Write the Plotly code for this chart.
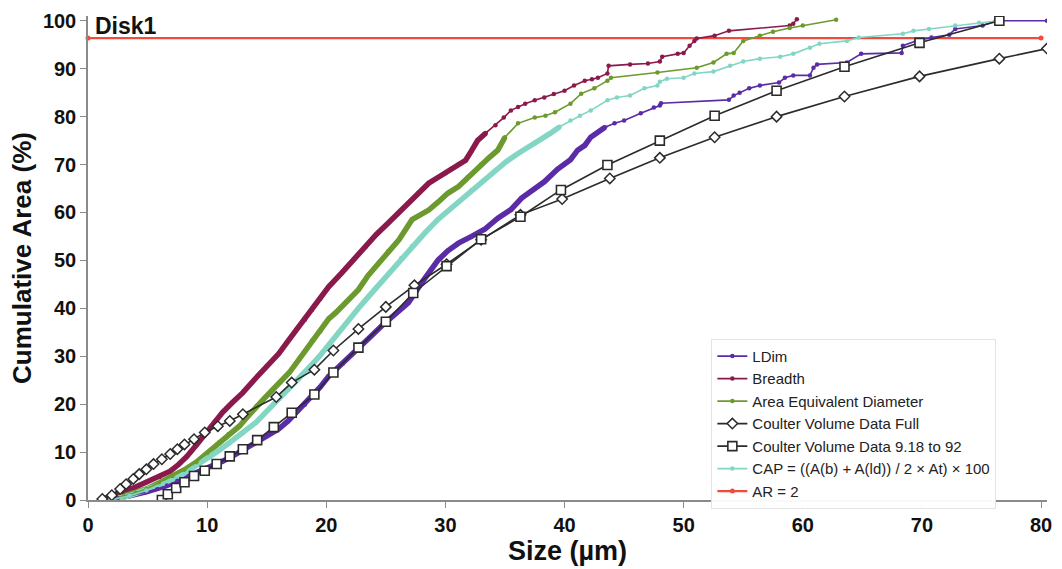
import plotly.graph_objects as go

# ---------------- data ----------------
ldim_x = [1.5, 2.5, 3.5, 4.9, 5.8, 6.6, 7.5, 8.5, 9.5, 10.4, 11.3, 12.1, 13.1, 14.1, 15.0, 16.0, 16.8, 17.5,
          18.2, 18.8, 19.5, 20.2, 21.4, 22.7, 23.6, 24.6, 25.8, 26.9, 28.0, 28.7, 29.4, 30.2, 31.1, 32.2, 33.3,
          34.4, 35.5, 36.4, 37.2, 38.3, 39.4, 40.5, 41.1, 41.7, 42.2, 43.4, 44.2, 45.0, 46.4, 47.5, 48.0, 48.1,
          53.8, 54.2, 54.7, 55.5, 56.4, 58.0, 58.5, 59.2, 60.6, 60.9, 61.2, 63.7, 64.9, 68.3, 68.4, 69.5, 70.8,
          72.3, 72.8, 75.1, 76.2, 80.5]
ldim_y = [0, 0.4, 0.9, 1.7, 2.3, 3.0, 4.0, 5.0, 6.0, 7.1, 8.1, 9.1, 10.5, 12.0, 13.3, 14.8, 16.5, 18.3,
          19.9, 21.6, 23.6, 25.8, 28.5, 31.4, 33.8, 36.2, 38.8, 41.2, 45.3, 47.8, 50.1, 52.0, 53.6, 55.0, 56.5,
          58.8, 60.6, 63.0, 64.5, 66.4, 69.0, 71.0, 73.0, 74.0, 75.7, 77.8, 78.6, 79.2, 80.7, 81.9, 82.3, 82.8,
          83.5, 84.4, 85.0, 85.9, 86.5, 87.1, 88.1, 88.6, 88.6, 90.2, 90.9, 91.3, 93.1, 93.3, 94.8, 95.8, 96.5,
          97.1, 98.3, 99.0, 100.0, 100.0]

breadth_x = [1.0, 2.0, 2.9, 4.0, 4.9, 6.0, 6.9, 7.6, 8.3, 9.1, 9.9, 10.6, 11.3, 12.1, 13.0, 14.0, 15.0, 16.0,
             16.8, 17.5, 18.2, 18.8, 19.5, 20.2, 21.3, 22.3, 23.3, 24.2, 25.2, 26.0, 26.9, 27.7, 28.6, 29.3,
             30.0, 30.5, 31.1, 31.7, 32.2, 32.7, 33.4, 34.2, 34.9, 35.5, 36.1, 36.7, 37.5, 38.3, 39.1, 40.0,
             40.8, 41.7, 42.3, 42.8, 43.6, 43.7, 45.5, 47.0, 48.0, 48.2, 49.5, 50.0, 50.5, 50.9, 51.1, 52.6,
             53.8, 58.9, 59.2, 59.5]
breadth_y = [0, 0.8, 1.7, 2.7, 3.7, 4.8, 6.0, 7.4, 9.1, 11.5, 14.1, 16.2, 18.3, 20.3, 22.4, 25.2, 27.9, 30.5,
             33.2, 35.6, 37.6, 39.7, 42.0, 44.5, 47.4, 50.2, 52.8, 55.4, 57.8, 59.8, 62.0, 64.0, 66.1, 67.2,
             68.2, 69.1, 70.0, 70.9, 72.9, 75.0, 76.6, 78.2, 79.8, 81.3, 82.0, 82.7, 83.4, 84.0, 84.7, 85.4,
             86.5, 87.5, 87.8, 88.1, 89.0, 90.6, 90.9, 91.1, 91.5, 92.5, 93.1, 93.3, 94.8, 95.8, 96.3, 96.9,
             97.9, 99.0, 99.4, 100.3]

aed_x = [1.5, 2.1, 3.0, 4.0, 4.9, 6.0, 7.1, 8.1, 9.1, 10.0, 11.0, 11.8, 12.7, 13.4, 14.1, 14.8, 15.5, 16.2,
         16.9, 17.7, 18.2, 18.8, 19.5, 20.2, 20.8, 21.7, 22.7, 23.5, 24.4, 25.2, 26.1, 27.2, 28.6, 29.4, 30.2,
         31.1, 31.9, 33.0, 33.7, 34.4, 35.0, 36.1, 37.5, 38.4, 39.2, 40.5, 41.4, 42.5, 43.6, 43.9, 47.8, 51.1,
         52.5, 53.6, 54.2, 55.0, 56.4, 57.5, 58.9, 60.0, 62.8]
aed_y = [0, 0.2, 0.8, 1.5, 2.3, 3.6, 5.0, 6.3, 7.9, 9.8, 12.0, 13.7, 15.4, 17.4, 19.5, 21.2, 23.0, 24.8,
         26.6, 29.3, 31.0, 33.3, 35.2, 37.8, 39.1, 41.4, 43.9, 46.8, 49.5, 51.9, 54.3, 58.5, 60.5, 62.2, 64.0,
         65.4, 67.4, 70.0, 71.5, 73.0, 75.7, 78.6, 79.8, 80.2, 80.9, 82.7, 84.8, 85.9, 87.5, 88.1, 89.2, 90.2,
         91.3, 93.1, 93.3, 95.8, 96.9, 97.7, 98.5, 99.0, 100.2]

cvd_full_x = [1.2, 2.0, 2.7, 3.2, 3.8, 4.3, 4.9, 5.5, 6.2, 6.9, 7.5, 8.1, 8.9, 9.8, 10.9, 11.9, 13.0, 15.8,
              17.1, 19.0, 20.6, 22.7, 25.0, 27.4, 30.1, 33.0, 36.3, 39.8, 43.8, 48.0, 52.6, 57.8, 63.5, 69.8,
              76.5, 80.5]
cvd_full_y = [0.2, 1.0, 2.3, 3.3, 4.4, 5.4, 6.4, 7.5, 8.5, 9.6, 10.6, 11.6, 12.7, 14.1, 15.4, 16.5, 17.9, 21.5,
              24.5, 27.2, 31.2, 35.7, 40.3, 44.8, 49.2, 54.3, 59.5, 62.8, 67.1, 71.4, 75.7, 80.0, 84.2, 88.4,
              92.1, 94.2]

cvd_part_x = [6.2, 6.7, 7.4, 8.1, 8.9, 9.8, 10.8, 11.9, 13.0, 14.2, 15.6, 17.1, 19.0, 20.6, 22.7, 25.0, 27.3,
              30.1, 33.0, 36.3, 39.7, 43.6, 48.0, 52.6, 57.8, 63.5, 69.8, 76.5]
cvd_part_y = [0, 1.2, 2.5, 3.7, 5.0, 6.1, 7.5, 9.1, 10.6, 12.5, 15.2, 18.2, 22.0, 26.6, 31.8, 37.2, 43.2,
              48.8, 54.4, 59.1, 64.7, 69.9, 75.0, 80.2, 85.4, 90.4, 95.4, 100.0]

cap_x = [1.5, 2.1, 3.5, 4.9, 6.3, 7.7, 8.8, 9.9, 10.9, 11.9, 13.0, 14.1, 15.0, 16.0, 16.8, 17.7, 18.5, 19.4,
         20.2, 21.0, 21.9, 22.7, 23.6, 24.6, 25.5, 26.3, 27.2, 28.3, 29.4, 30.3, 31.3, 32.2, 33.2, 34.2, 35.1,
         36.1, 37.5, 38.8, 39.6, 40.5, 41.3, 42.2, 43.6, 44.4, 45.5, 46.7, 47.8, 48.0, 48.6, 50.0, 50.9, 52.5,
         53.9, 55.0, 56.4, 58.1, 59.2, 60.6, 61.4, 63.7, 64.7, 68.4, 69.3, 70.6, 72.8, 74.8, 76.4]
cap_y = [0, 0.1, 0.9, 2.0, 3.4, 5.0, 6.7, 8.5, 10.2, 12.0, 14.0, 16.2, 18.5, 21.0, 23.0, 25.2, 27.5, 29.9,
         32.4, 35.0, 37.5, 40.0, 42.6, 45.4, 48.0, 50.5, 53.0, 55.8, 58.6, 60.5, 62.6, 64.7, 66.7, 68.8, 70.6,
         72.3, 74.4, 76.5, 77.9, 79.2, 80.2, 81.3, 83.4, 84.0, 84.4, 85.9, 86.5, 87.3, 87.9, 88.1, 89.0, 89.4,
         90.6, 91.5, 92.1, 92.5, 93.1, 94.4, 95.2, 95.8, 96.5, 97.3, 97.9, 98.3, 99.0, 99.6, 100.0]

ar_x = [0, 80]
ar_y = [96.4, 96.4]

x_ticks = [0, 10, 20, 30, 40, 50, 60, 70, 80]
y_ticks = [0, 10, 20, 30, 40, 50, 60, 70, 80, 90, 100]

# ---------------- figure ----------------
FONT = "Liberation Sans, Arial, sans-serif"
DENSE_LIMIT = 78  # cumulative % below which the measured points are packed into a thick band

fig = go.Figure()

fig.add_trace(go.Scatter(x=ar_x, y=ar_y, name="AR = 2", mode="lines+markers",
                         line=dict(color="#f24b3d", width=2.2), marker=dict(size=5, color="#f24b3d"),
                         legendrank=7, cliponaxis=False))

colored = [
    ("LDim", ldim_x, ldim_y, "#5b2ca6", 1),
    ("Breadth", breadth_x, breadth_y, "#8b1a4c", 2),
    ("Area Equivalent Diameter", aed_x, aed_y, "#6c9a2f", 3),
    ("CAP = ((A(b) + A(ld)) / 2 × At) × 100", cap_x, cap_y, "#84d6c4", 6),
]

for name, xs, ys, col, rank in colored:
    dx = [x for x, y in zip(xs, ys) if y <= DENSE_LIMIT]
    dy = [y for y in ys if y <= DENSE_LIMIT]
    fig.add_trace(go.Scatter(x=dx, y=dy, mode="lines", line=dict(color=col, width=5.5),
                             showlegend=False, hoverinfo="skip"))

for name, xs, ys, col, rank in colored:
    fig.add_trace(go.Scatter(x=xs, y=ys, name=name, mode="lines+markers",
                             line=dict(color=col, width=1.6), marker=dict(size=4.5, color=col),
                             legendrank=rank))

fig.add_trace(go.Scatter(x=cvd_full_x, y=cvd_full_y, name="Coulter Volume Data Full", mode="lines+markers",
                         line=dict(color="#2b2b2b", width=1.6),
                         marker=dict(symbol="diamond", size=8, color="white",
                                     line=dict(color="#2b2b2b", width=1.5)),
                         legendrank=4))
fig.add_trace(go.Scatter(x=cvd_part_x, y=cvd_part_y, name="Coulter Volume Data 9.18 to 92",
                         mode="lines+markers",
                         line=dict(color="#2b2b2b", width=1.6),
                         marker=dict(symbol="square", size=9, color="white",
                                     line=dict(color="#2b2b2b", width=1.6)),
                         legendrank=5))

fig.add_annotation(x=0.4, y=99.0, xref="x", yref="y", text="Disk1", showarrow=False,
                   xanchor="left", yanchor="middle",
                   font=dict(family=FONT, size=23, color="#111", weight="bold"))

fig.update_layout(
    width=1062, height=569,
    margin=dict(l=88, r=10, t=15, b=68),
    paper_bgcolor="white", plot_bgcolor="white",
    font=dict(family=FONT, color="#111"),
    showlegend=True,
    legend=dict(x=0.65, y=0.333, xanchor="left", yanchor="top",
                bgcolor="rgba(255,255,255,0.95)", bordercolor="#e4e4e4", borderwidth=1,
                font=dict(family=FONT, size=15, color="#222"),
                tracegroupgap=0, itemwidth=30),
    xaxis=dict(range=[0, 80.5], tickvals=x_ticks, ticktext=[str(v) for v in x_ticks],
               showgrid=False, zeroline=False, showline=True, linecolor="#8a8a8a", linewidth=1.5,
               ticks="outside", ticklen=6, tickcolor="#8a8a8a",
               tickfont=dict(family=FONT, size=20, color="#111", weight="bold"),
               title=dict(text="Size (µm)", standoff=4,
                          font=dict(family=FONT, size=27, color="#111", weight="bold"))),
    yaxis=dict(range=[0, 101], tickvals=y_ticks, ticktext=[str(v) for v in y_ticks],
               showgrid=False, zeroline=False, showline=True, linecolor="#8a8a8a", linewidth=1.5,
               ticks="outside", ticklen=6, tickcolor="#8a8a8a",
               tickfont=dict(family=FONT, size=20, color="#111", weight="bold"),
               title=dict(text="Cumulative Area (%)", standoff=4,
                          font=dict(family=FONT, size=26, color="#111", weight="bold"))),
)

fig.write_html("out.html")
